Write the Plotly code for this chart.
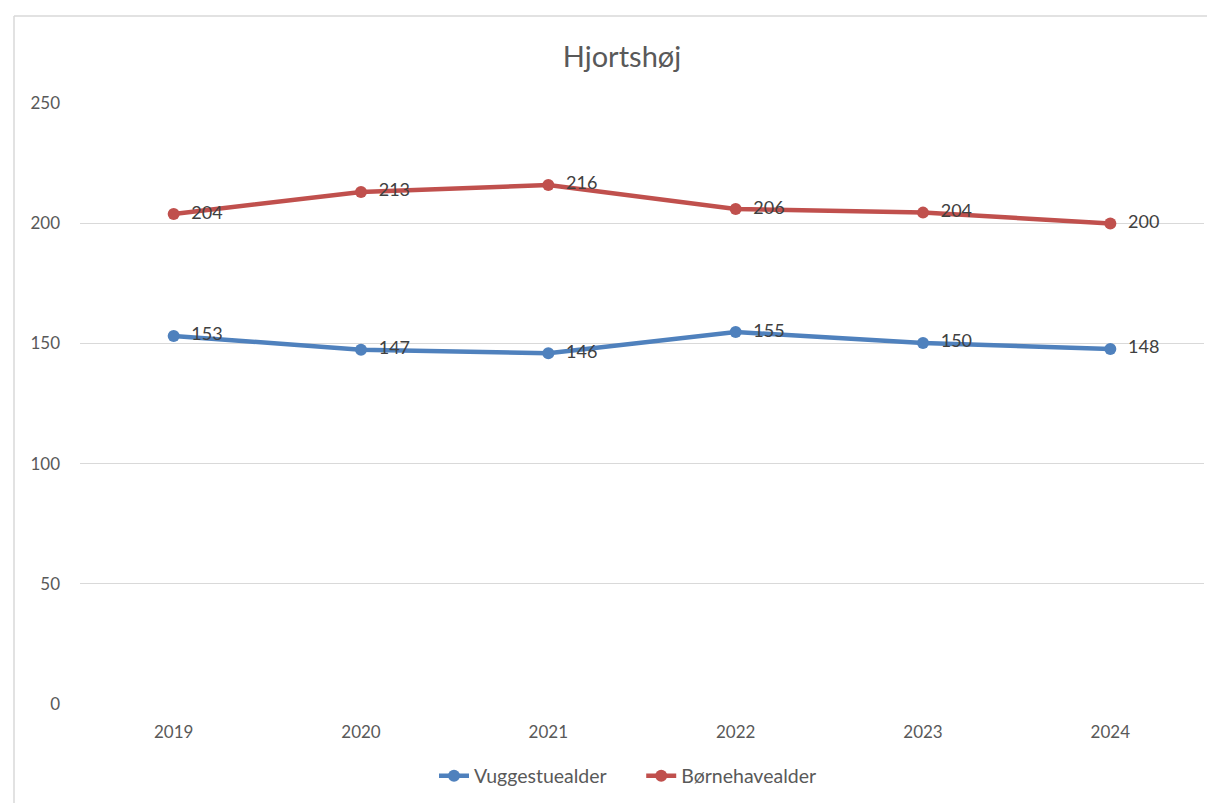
import plotly.graph_objects as go

years = ["2019", "2020", "2021", "2022", "2023", "2024"]
vuggestue = [153.1, 147.4, 145.9, 154.7, 150.2, 147.7]
boernehave = [203.8, 213.0, 215.9, 205.9, 204.4, 199.9]
series_names = ["Vuggestuealder", "Børnehavealder"]
colors = ["#4F81BD", "#C0504D"]

FONT = "Lato, 'Liberation Sans', sans-serif"

W, H = 1207, 803
L, R, T, B = 80, 3, 103, 99
PW, PH = W - L - R, H - T - B

fig = go.Figure()
for i, (name, vals, col) in enumerate(zip(series_names, [vuggestue, boernehave], colors)):
    fig.add_trace(go.Scatter(
        x=years, y=vals, name=name + ("\u00a0" * 6 if i == 0 else ""),
        mode="lines+markers+text",
        line=dict(color=col, width=4.5),
        marker=dict(color=col, size=12),
        texttemplate="\u00a0\u00a0%{y:.0f}", textposition="middle right",
        textfont=dict(size=18, color="#404040", family=FONT),
        cliponaxis=False,
    ))

bx0 = (14 - L) / PW
by1 = 1 + (T - 16) / PH
fig.update_layout(
    width=W, height=H,
    margin=dict(l=L, r=R, t=T, b=B),
    paper_bgcolor="white", plot_bgcolor="white",
    font=dict(family=FONT, color="#595959"),
    title=dict(text="Hjortshøj", x=622 / W, xref="container", xanchor="center",
               y=1 - 57 / H, yref="container", yanchor="middle",
               font=dict(size=29, color="#595959", family=FONT)),
    showlegend=True,
    legend=dict(orientation="h", x=(628 - L) / PW, xanchor="center",
                y=-72 / PH, yanchor="middle",
                font=dict(size=19.5, color="#595959", family=FONT),
                traceorder="normal"),
    shapes=[
        dict(type="line", xref="paper", yref="paper", x0=bx0, x1=1.05, y0=by1, y1=by1,
             line=dict(color="#D9D9D9", width=1.5), layer="below"),
        dict(type="line", xref="paper", yref="paper", x0=bx0, x1=bx0, y0=-0.3, y1=by1,
             line=dict(color="#D9D9D9", width=1.5), layer="below"),
    ],
)
fig.update_xaxes(type="category", range=[-0.5, 5.5], showgrid=False, showline=False,
                 zeroline=False, ticks="", tickfont=dict(size=17, color="#595959"),
                 ticklabelstandoff=16)
fig.update_yaxes(range=[0, 250], dtick=50, showgrid=True, gridcolor="#D9D9D9", gridwidth=1,
                 zeroline=False, showline=False, ticks="",
                 tickfont=dict(size=17, color="#595959"), ticklabelstandoff=19)

fig.write_html("out.html", config={"displayModeBar": False},
               post_script="document.body.style.margin='0px';"
                           "document.body.style.overflow='hidden';"
                           "document.documentElement.style.overflow='hidden';")
